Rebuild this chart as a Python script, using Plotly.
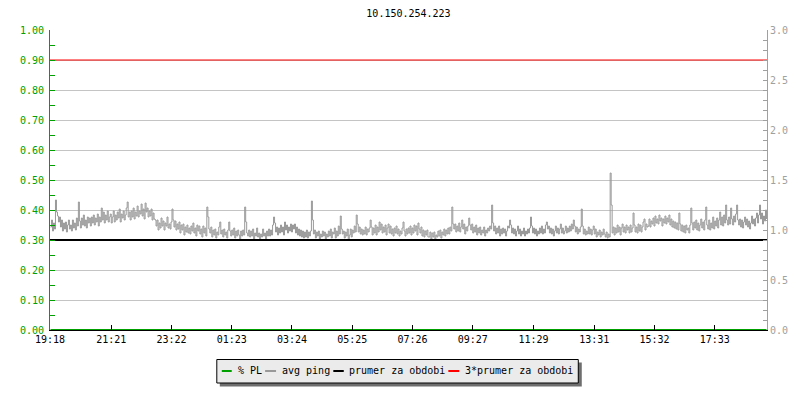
import datetime as dt
import plotly.graph_objects as go

# ---------------- data ----------------
title_text = "10.150.254.223"
start_time = dt.datetime(2024, 1, 1, 19, 18)
sample_minutes = 2
span_minutes = 1440

tick_labels = ["19:18", "21:21", "23:22", "01:23", "03:24", "05:25",
               "07:26", "09:27", "11:29", "13:31", "15:32", "17:33"]

# avg ping (ms), one value per 2 minutes
avg_ping = [
    1.03, 1.10, 0.99, 1.07, 1.01, 1.30, 1.18, 1.14, 1.08, 1.13, 1.03, 1.10, 0.99, 1.07, 1.01, 1.08, 0.98, 1.05, 1.10, 1.01,
    1.05, 0.99, 1.10, 1.02, 1.07, 1.00, 1.12, 1.04, 1.28, 1.09, 1.02, 1.12, 1.05, 1.15, 1.04, 1.10, 1.02, 1.13, 1.07, 1.12,
    1.04, 1.13, 1.07, 1.15, 1.05, 1.12, 1.08, 1.16, 1.04, 1.13, 1.08, 1.22, 1.10, 1.18, 1.07, 1.15, 1.10, 1.19, 1.08, 1.13,
    1.16, 1.07, 1.13, 1.19, 1.08, 1.15, 1.10, 1.18, 1.12, 1.21, 1.08, 1.16, 1.12, 1.19, 1.10, 1.15, 1.22, 1.28, 1.13, 1.18,
    1.10, 1.19, 1.13, 1.22, 1.11, 1.18, 1.14, 1.24, 1.13, 1.19, 1.16, 1.26, 1.14, 1.21, 1.11, 1.27, 1.18, 1.22, 1.13, 1.19,
    1.14, 1.21, 1.10, 1.17, 1.11, 1.10, 1.04, 1.10, 1.00, 1.07, 1.02, 1.12, 1.04, 1.09, 1.00, 1.07, 1.04, 1.13, 1.02, 1.06,
    1.01, 1.08, 1.21, 1.10, 1.03, 1.09, 1.00, 1.06, 1.01, 1.08, 0.97, 1.05, 1.00, 1.06, 0.95, 1.03, 0.98, 1.05, 0.97, 1.02,
    0.96, 1.04, 0.99, 1.07, 0.97, 1.02, 0.94, 1.05, 0.99, 1.04, 0.96, 1.01, 0.93, 1.04, 0.97, 1.02, 0.94, 1.23, 1.13, 1.01,
    0.97, 1.03, 0.93, 1.00, 0.95, 1.01, 0.92, 0.98, 0.95, 1.03, 1.08, 0.96, 1.00, 0.93, 1.01, 0.95, 0.98, 0.92, 1.00, 1.08,
    0.99, 0.94, 1.00, 0.95, 1.02, 0.92, 0.99, 0.94, 1.00, 0.95, 0.91, 0.99, 0.94, 1.00, 0.95, 1.23, 1.08, 0.97, 0.94, 1.00,
    0.93, 0.99, 0.94, 1.01, 0.91, 0.97, 0.94, 1.02, 0.93, 0.97, 0.90, 0.96, 0.93, 1.01, 0.94, 0.97, 0.91, 0.99, 0.94, 1.01,
    0.94, 1.00, 0.95, 1.05, 1.13, 1.07, 0.98, 1.03, 0.95, 1.02, 0.97, 1.05, 0.98, 1.03, 0.95, 1.08, 1.00, 1.05, 0.97, 1.03,
    0.99, 1.06, 0.98, 1.05, 1.01, 1.06, 0.97, 1.03, 0.95, 1.01, 0.94, 1.00, 0.93, 0.99, 0.92, 0.98, 0.93, 1.00, 0.92, 0.98,
    0.94, 0.99, 1.29, 1.10, 0.96, 1.00, 0.92, 0.98, 0.94, 0.99, 0.91, 0.96, 0.93, 0.99, 0.94, 0.98, 0.91, 0.96, 0.93, 0.99,
    0.94, 1.01, 0.92, 0.98, 0.96, 1.02, 0.92, 0.99, 0.94, 1.04, 0.96, 1.14, 1.01, 0.96, 0.99, 0.92, 0.98, 0.94, 1.01, 0.90,
    0.95, 1.01, 0.93, 1.00, 0.97, 1.04, 0.98, 1.15, 1.06, 0.98, 1.03, 0.96, 1.01, 0.95, 1.00, 0.96, 1.03, 0.95, 1.01, 0.98,
    1.02, 1.10, 1.03, 0.95, 1.02, 0.97, 1.05, 0.95, 1.03, 0.98, 1.08, 1.00, 1.06, 0.97, 1.03, 0.98, 1.05, 0.95, 1.02, 1.06,
    0.97, 1.04, 0.96, 1.01, 0.94, 1.02, 0.97, 1.04, 0.96, 1.01, 0.94, 0.99, 0.96, 1.02, 1.08, 0.99, 0.94, 1.01, 0.96, 1.02,
    0.97, 1.04, 0.95, 1.02, 0.97, 1.05, 0.99, 1.04, 0.95, 1.07, 1.01, 0.97, 1.03, 0.94, 1.00, 0.93, 0.99, 0.95, 1.00, 0.93,
    0.93, 0.98, 0.91, 0.97, 0.93, 0.98, 0.91, 0.95, 0.93, 0.99, 0.94, 1.00, 0.92, 0.98, 0.95, 1.01, 0.94, 1.00, 0.96, 1.02,
    0.96, 1.03, 0.99, 1.23, 1.06, 1.01, 1.06, 0.98, 1.04, 0.99, 1.07, 0.98, 1.03, 1.10, 1.01, 1.06, 0.96, 1.03, 0.99, 1.04,
    1.12, 1.05, 1.00, 1.06, 0.97, 1.03, 0.98, 1.05, 0.95, 1.02, 0.97, 1.03, 0.95, 1.00, 0.97, 1.03, 0.94, 1.00, 0.97, 1.02,
    0.99, 1.04, 1.01, 1.25, 1.07, 0.99, 1.04, 0.96, 1.02, 0.97, 1.04, 0.94, 1.01, 0.96, 1.02, 0.97, 1.01, 0.94, 0.99, 1.04,
    1.02, 1.10, 1.05, 0.97, 1.02, 0.96, 1.01, 0.94, 0.99, 1.04, 0.96, 1.01, 0.94, 0.99, 0.96, 1.02, 0.94, 0.99, 0.96, 1.01,
    0.97, 1.02, 1.13, 1.04, 0.97, 1.02, 0.96, 1.01, 0.94, 0.99, 0.96, 1.02, 0.97, 1.04, 0.96, 1.01, 0.97, 1.05, 1.08, 1.01,
    1.04, 0.97, 1.02, 0.96, 1.01, 0.94, 0.99, 1.04, 0.97, 1.02, 0.96, 1.01, 1.06, 0.97, 1.02, 0.96, 0.99, 1.04, 0.97, 1.02,
    0.98, 1.04, 0.99, 1.06, 1.01, 1.10, 1.04, 0.98, 1.03, 0.96, 1.01, 0.98, 1.03, 1.21, 1.04, 0.96, 1.01, 0.95, 0.99, 0.96,
    1.03, 0.96, 1.01, 0.95, 1.00, 1.04, 0.96, 1.01, 0.93, 0.98, 0.95, 1.00, 0.93, 0.98, 0.95, 1.01, 0.96, 0.93, 0.98, 0.92,
    0.96, 0.93, 1.57, 1.25, 0.97, 1.03, 0.95, 1.02, 0.97, 1.05, 0.98, 1.03, 0.95, 1.02, 1.06, 0.98, 1.03, 0.97, 1.05, 1.00,
    1.03, 0.97, 1.05, 0.98, 1.02, 1.17, 1.05, 0.98, 1.03, 0.97, 1.06, 0.99, 1.05, 0.98, 1.03, 1.08, 1.11, 1.00, 1.06, 1.03,
    1.04, 1.11, 1.03, 1.09, 1.06, 1.12, 1.04, 1.14, 1.07, 1.11, 1.06, 1.15, 1.09, 1.12, 1.04, 1.11, 1.07, 1.14, 1.06, 1.12,
    1.08, 1.15, 1.05, 1.11, 1.03, 1.09, 1.02, 1.08, 1.01, 1.07, 1.00, 1.17, 1.06, 0.99, 1.05, 0.98, 1.04, 0.97, 1.05, 1.00,
    1.02, 0.97, 1.05, 1.22, 1.07, 1.00, 1.08, 1.02, 1.10, 1.00, 1.07, 0.99, 1.05, 1.11, 1.02, 1.08, 1.00, 1.10, 1.23, 1.05,
    1.01, 1.10, 1.00, 1.07, 1.02, 1.13, 1.01, 1.09, 1.04, 1.12, 1.02, 1.10, 1.18, 1.05, 1.13, 1.04, 1.15, 1.07, 1.25, 1.10,
    1.05, 1.13, 1.06, 1.22, 1.11, 1.05, 1.14, 1.08, 1.16, 1.25, 1.10, 1.05, 1.11, 1.03, 1.10, 1.02, 1.08, 1.13, 1.05, 1.11,
    1.03, 1.09, 1.01, 1.07, 1.14, 1.06, 1.11, 1.04, 1.12, 1.17, 1.07, 1.15, 1.25, 1.11, 1.17, 1.06, 1.14, 1.09, 1.20, 1.11,
]
packet_loss_value = 0.0          # % PL stays at zero the whole period
period_mean = 0.9                # "prumer za obdobi"
mean_factor = 3                  # "3*prumer za obdobi"

series_names = ["% PL", "avg ping", "prumer za obdobi", "3*prumer za obdobi"]

# ---------------- styling ----------------
FONT = "DejaVu Sans Mono"
GREEN = "#00a000"
PING_GRAY = "#999999"
AXIS_GRAY = "#a0a0a0"
GRID = "#c4c4c4"

BODY = 8                      # default page margin of the html body
W, H = 800 - BODY, 400 - BODY
ML, MT = 50 - BODY, 30 - BODY
PW, PH = 720, 300
MR, MB = W - ML - PW, H - MT - PH


def px_x(p):                  # page pixel -> paper x
    return (p - BODY - ML) / PW


def px_y(p):                  # page pixel -> paper y
    return (MT + PH - (p - BODY)) / PH


# each sample is placed in the middle of its 2-minute slot
times = [start_time + dt.timedelta(minutes=sample_minutes * i + sample_minutes / 2)
         for i in range(len(avg_ping))]
end_time = start_time + dt.timedelta(minutes=span_minutes)
pl_values = [packet_loss_value for _ in times]


def label_to_time(lbl):
    h, m = map(int, lbl.split(":"))
    t = start_time.replace(hour=h, minute=m)
    if t < start_time:
        t += dt.timedelta(days=1)
    return t


tick_vals = [label_to_time(l) for l in tick_labels]

fig = go.Figure()
fig.add_trace(go.Scatter(x=times, y=pl_values, mode="lines", name=series_names[0],
                         line=dict(color=GREEN, width=2), yaxis="y", showlegend=False))
fig.add_trace(go.Scatter(x=times, y=avg_ping, mode="lines", name=series_names[1],
                         line=dict(color=PING_GRAY, width=1, shape="hv"),
                         yaxis="y2", showlegend=False))
fig.add_trace(go.Scatter(x=[start_time, end_time], y=[period_mean, period_mean], mode="lines",
                         name=series_names[2], line=dict(color="black", width=2),
                         yaxis="y2", showlegend=False))
fig.add_trace(go.Scatter(x=[start_time, end_time],
                         y=[mean_factor * period_mean, mean_factor * period_mean], mode="lines",
                         name=series_names[3], line=dict(color="red", width=1),
                         yaxis="y2", showlegend=False))

# ---------------- custom legend (rrdtool style) ----------------
shapes = []
annotations = []
shapes.append(dict(type="rect", xref="paper", yref="paper",
                   x0=px_x(220.5), x1=px_x(584), y0=px_y(386.5), y1=px_y(362.5),
                   fillcolor="#6e6e6e", line=dict(width=0), layer="above"))
shapes.append(dict(type="rect", xref="paper", yref="paper",
                   x0=px_x(217.5), x1=px_x(580.5), y0=px_y(383), y1=px_y(359.5),
                   fillcolor="#ebebeb", line=dict(color="black", width=1), layer="above"))
legend_items = [
    (GREEN, 222.5, 232.5, 236.5),
    (PING_GRAY, 266, 277, 281),
    ("black", 334.5, 345, 348.5),
    ("red", 450, 461, 465),
]
for (col, x0, x1, tx), name in zip(legend_items, series_names):
    shapes.append(dict(type="line", xref="paper", yref="paper",
                       x0=px_x(x0), x1=px_x(x1), y0=px_y(371), y1=px_y(371),
                       line=dict(color=col, width=2), layer="above"))
    annotations.append(dict(text=name, xref="paper", yref="paper", x=px_x(tx), y=px_y(370.5),
                            xanchor="left", yanchor="middle", showarrow=False,
                            font=dict(family=FONT, size=10, color="black")))

fig.update_layout(
    width=W, height=H,
    margin=dict(l=ML, r=MR, t=MT, b=MB, pad=0),
    paper_bgcolor="white", plot_bgcolor="white",
    showlegend=False,
    title=dict(text=title_text, x=px_x(410), xref="paper", xanchor="center",
               y=1 - (13.5 - BODY) / H, yref="container", yanchor="middle",
               font=dict(family=FONT, size=10, color="black")),
    xaxis=dict(type="date", range=[start_time, end_time],
               tickmode="array", tickvals=tick_vals, ticktext=tick_labels,
               ticks="inside", ticklen=5, tickcolor="black", tickwidth=1,
               showline=True, linecolor="black", linewidth=1,
               showgrid=False, zeroline=False,
               tickfont=dict(family=FONT, size=10, color="black")),
    yaxis=dict(range=[0, 1], dtick=0.1, tick0=0, tickformat=".2f",
               ticks="inside", ticklen=5, tickcolor=GREEN, tickwidth=1,
               showline=True, linecolor=GREEN, linewidth=1,
               showgrid=True, gridcolor=GRID, gridwidth=1, zeroline=False,
               ticklabelstandoff=3,
               tickfont=dict(family=FONT, size=10, color=GREEN),
               minor=dict(dtick=0.05, ticks="inside", ticklen=5, tickcolor=GREEN,
                          showgrid=False)),
    yaxis2=dict(range=[0, 3], dtick=0.5, tick0=0, tickformat=".1f",
                overlaying="y", side="right",
                ticks="inside", ticklen=4, tickcolor=AXIS_GRAY, tickwidth=1,
                showline=True, linecolor=AXIS_GRAY, linewidth=1,
                showgrid=False, zeroline=False,
                tickfont=dict(family=FONT, size=10, color=AXIS_GRAY),
                minor=dict(dtick=0.1, ticks="inside", ticklen=4, tickcolor=AXIS_GRAY,
                           showgrid=False)),
    shapes=shapes,
    annotations=annotations,
)

fig.write_html("out.html")
